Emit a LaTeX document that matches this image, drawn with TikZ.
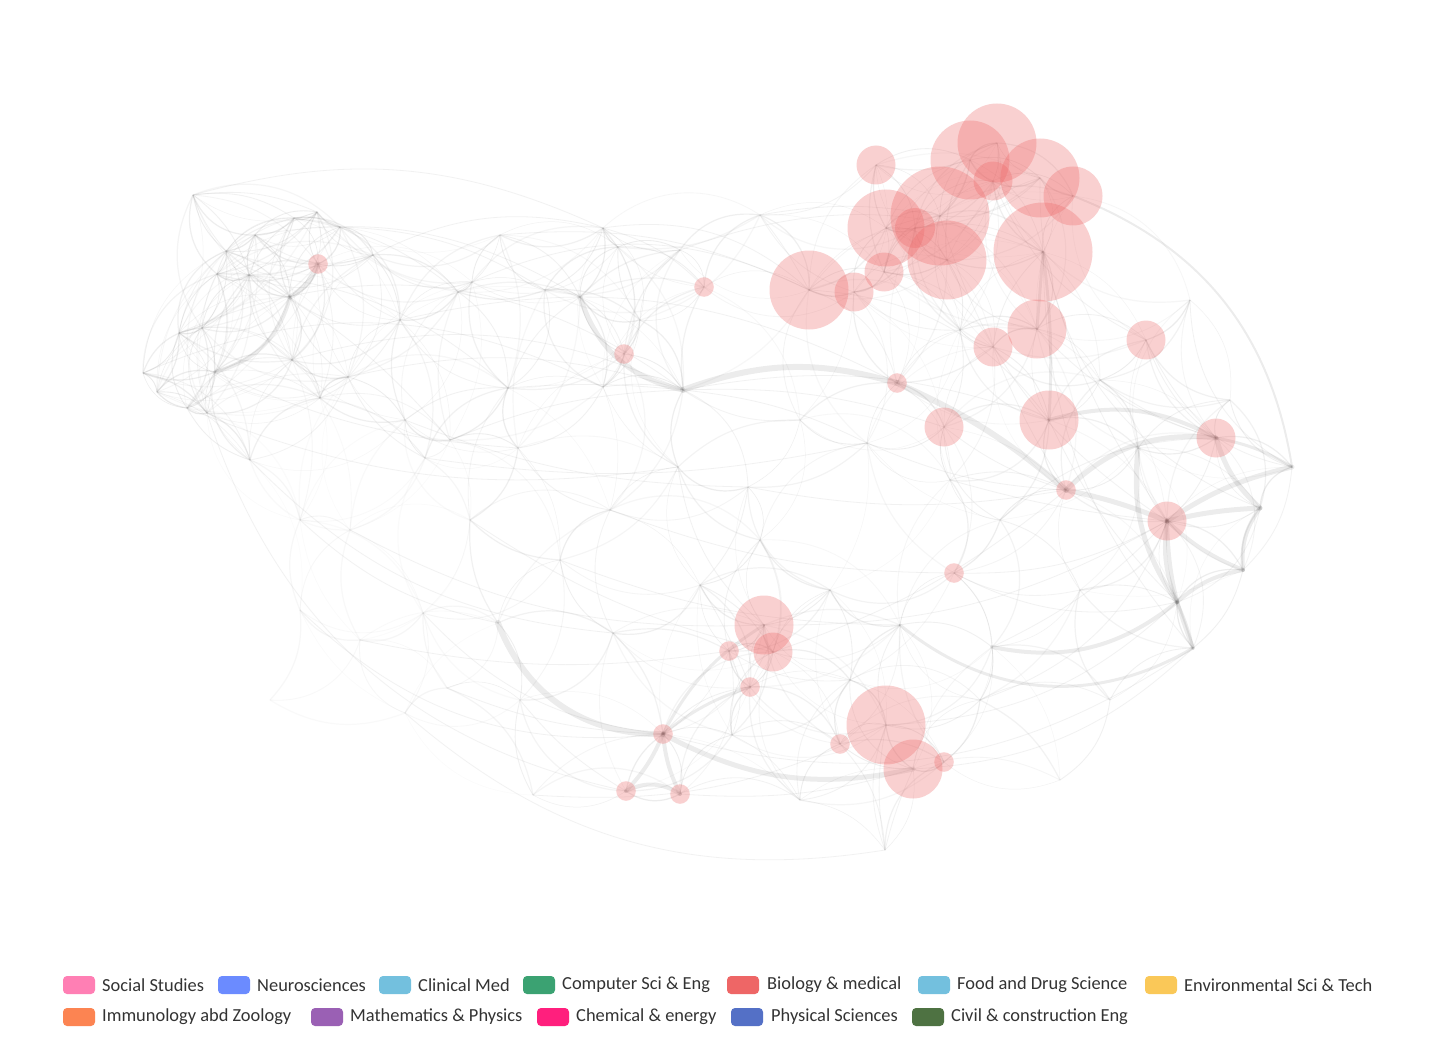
\documentclass[tikz,border=0pt]{standalone}
\usepackage{fontspec}
\setmainfont{Carlito}
\definecolor{socialC}{HTML}{FF7FB4}
\definecolor{neuroC}{HTML}{6B8BFF}
\definecolor{clinC}{HTML}{73C0DE}
\definecolor{compC}{HTML}{3BA272}
\definecolor{bioC}{HTML}{EE6666}
\definecolor{foodC}{HTML}{73C0DE}
\definecolor{envC}{HTML}{FAC858}
\definecolor{immC}{HTML}{FC8452}
\definecolor{mathC}{HTML}{9A60B4}
\definecolor{chemC}{HTML}{FF1F7D}
\definecolor{physC}{HTML}{5470C6}
\definecolor{civilC}{HTML}{4E7242}
\definecolor{txtC}{HTML}{333333}
\tikzset{
  web/.style={draw=black!40},
  longedge/.style={draw=black!40, line width=0.8pt, opacity=0.13},
  band/.style={draw=black, opacity=0.075, line cap=round},
  bionode/.style={circle, fill=bioC, fill opacity=0.3, draw=none, inner sep=0pt},
  lbox/.style={rectangle, rounded corners=4pt, minimum width=32pt, minimum height=18pt, inner sep=0pt, draw=none},
  ltext/.style={anchor=west, inner sep=0pt, text=txtC, font=\fontsize{18.4}{20}\selectfont}
}
\def\hubs{1/193/195, 2/255/235, 3/294/218, 4/317/212, 5/340/227, 6/226/251, 7/373/255, 8/217/274, 9/249/275, 10/290/297,
11/458/292, 12/472/282, 13/179/333, 14/202/328, 15/143/373, 16/215/372, 17/157/392, 18/187/408, 19/207/413, 20/292/360,
21/348/377, 22/320/398, 23/405/420, 24/450/440, 25/508/388, 26/518/448, 27/580/297, 28/603/228, 29/618/247, 30/545/290,
31/603/387, 32/425/458, 33/683/390, 34/678/467, 35/748/487, 36/867/443, 37/610/510, 38/498/623, 39/423/613, 40/447/688,
41/405/713, 42/613/633, 43/732/735, 44/533/795, 45/1292/467, 46/1260/508, 47/1243/570, 48/1177/602, 49/1193/648, 50/992/647,
51/1138/448, 52/885/850, 53/760/540, 54/830/590, 55/900/625, 56/850/680, 57/1000/520, 58/1100/380, 59/1190/300, 60/760/215,
61/680/250, 62/500/235, 63/400/320, 64/300/520, 65/250/460, 66/350/530, 67/360/640, 68/560/560, 69/950/480, 70/980/700,
71/1080/590, 72/1110/700, 73/700/585, 74/800/420, 75/960/330, 76/520/700, 77/300/610, 78/470/520, 79/800/800, 80/1060/780,
81/270/700, 82/640/320, 83/1230/400,
101/876/165, 102/997/143, 103/970/160, 104/993/181, 105/1040/178, 106/1073/196, 107/940/216, 108/886/228, 109/915/228, 110/947/260,
111/1043/252, 112/809/290, 113/854/292, 114/884/272, 115/1037/329, 116/993/347, 117/1146/340, 118/1049/420, 119/944/427, 120/897/383,
121/704/287, 122/624/354, 123/318/264, 124/1216/438, 125/1066/490, 126/1167/521, 127/954/573, 128/764/625, 129/773/652, 130/729/651,
131/750/687, 132/886/725, 133/913/769, 134/944/762, 135/840/744, 136/663/734, 137/626/791, 138/680/794}
\begin{document}
\begin{tikzpicture}[x=1pt, y=-1pt]
\useasboundingbox (0,0) rectangle (1435,1043);
\fill[white] (0,0) rectangle (1435,1043);
% hub coordinates
\foreach \i/\xa/\ya in \hubs { \coordinate (h\i) at (\xa,\ya); }
% local web of faint curved links
\foreach \i/\xa/\ya in \hubs {
  \foreach \j/\xb/\yb in \hubs {
    \ifnum\i<\j\relax
      \pgfmathsetmacro\d{veclen(\xb-\xa,\yb-\ya)}
      \ifdim\d pt<165pt
        \pgfmathsetmacro\op{(0.24-\d/1000)*((((\xa+\xb)/2<480)&&((\ya+\yb)/2>440))?0.5:1)}
        \pgfmathtruncatemacro\bnd{(mod(\i+\j,2)==0 ? 1 : -1)*(18+mod(\i*3+\j*7,22))}
        \pgfmathsetmacro\lw{0.5+0.35*mod(\i+2*\j,3)}
        \draw[web, opacity=\op, line width=\lw pt] (h\i) to[bend left=\bnd] (h\j);
      \fi
    \fi
  }
}
% long faint arcs
\foreach \a/\b/\bb in {1/28/20, 1/4/15, 1/6/-10, 28/112/25, 28/121/15, 60/107/10, 60/112/5, 62/112/15, 61/111/20, 12/112/25,
  33/118/15, 33/119/10, 33/36/10, 31/33/10, 25/33/5, 24/33/10, 21/33/15, 20/33/20, 19/137/-30, 41/52/-25,
  44/132/-15, 138/133/-10, 52/132/10, 52/133/5, 136/49/-25, 39/136/-20, 40/136/-10, 76/137/-10, 111/49/-20, 105/46/-35,
  111/126/-10, 107/126/-20, 118/48/-10, 115/124/-15, 112/118/25, 116/125/-5, 119/125/-10, 127/126/-15, 127/48/-20, 50/126/-10,
  70/126/-25, 132/48/-20, 133/49/-20, 128/126/-15, 129/125/-10, 34/128/-20, 35/125/-10, 36/125/-10, 69/126/-5, 57/124/20,
  58/124/-10, 59/45/-30, 117/45/-30, 117/124/-10, 104/117/-20, 13/33/30, 15/31/25, 8/25/20, 3/11/15, 7/28/20, 2/27/20, 5/30/15,
  9/24/10, 16/26/-10, 18/34/-15, 23/35/-10, 32/36/-10, 63/120/20, 64/38/-15, 65/42/-20, 66/128/-15, 67/130/-10, 77/136/-25,
  78/129/-10, 37/127/-10, 68/55/-10, 73/131/5}
  { \draw[longedge] (h\a) to[bend left=\bb] (h\b); }
% thick bands
\foreach \a/\b/\bb/\w in {33/120/18/6, 120/125/8/6, 125/126/5/5, 125/124/25/5, 118/124/22/4, 126/45/10/5, 126/46/5/5,
  126/47/-10/4, 126/48/-15/4, 126/49/-10/4, 124/46/-15/5, 124/45/10/3, 51/48/-20/5, 47/46/20/4, 48/47/15/4, 48/49/5/3,
  27/33/-30/5, 38/136/-35/6, 136/137/10/4, 136/138/-10/4, 137/138/30/4, 136/133/-20/5, 136/128/15/3, 136/131/10/3,
  123/10/20/5, 10/16/30/4, 50/48/-25/4, 55/49/-35/3, 111/118/5/3, 111/115/0/3, 106/45/30/2}
  { \draw[band, line width=\w pt] (h\a) to[bend left=\bb] (h\b); }
% pink nodes
\foreach \i/\r in {101/19.5, 102/39.5, 103/39.5, 104/19.5, 105/39.5, 106/29.5, 107/49.5, 108/38.5, 109/20, 110/39.5,
  111/49.5, 112/39.5, 113/19.5, 114/19.5, 115/29.5, 116/19.5, 117/19.5, 118/29.5, 119/19.5, 120/9.8,
  121/9.8, 122/9.8, 123/9.8, 124/19.5, 125/9.8, 126/19.5, 127/9.8, 128/29.5, 129/19.5, 130/9.8,
  131/9.8, 132/39.5, 133/29.5, 134/9.8, 135/9.8, 136/9.8, 137/9.8, 138/9.8}
  { \node[bionode, minimum size=2*\r] (p\i) at (h\i) {}; }
% legend
\node[lbox, fill=socialC] (k1) at (79,985) {};  \node[ltext] (t1) at (102,985) {Social Studies};
\node[lbox, fill=neuroC]  (k2) at (234,985) {}; \node[ltext] (t2) at (257,985) {Neurosciences};
\node[lbox, fill=clinC]   (k3) at (395,985) {}; \node[ltext] (t3) at (418,985) {Clinical Med};
\node[lbox, fill=compC]   (k4) at (539,985) {}; \node[ltext] (t4) at (562,985) {Computer Sci \& Eng};
\node[lbox, fill=bioC]    (k5) at (743,985) {}; \node[ltext] (t5) at (767,985) {Biology \& medical};
\node[lbox, fill=foodC]   (k6) at (934,985) {}; \node[ltext] (t6) at (957,985) {Food and Drug Science};
\node[lbox, fill=envC]    (k7) at (1161,985) {}; \node[ltext] (t7) at (1184,985) {Environmental Sci \& Tech};
\node[lbox, fill=immC]    (k8) at (79,1017) {};  \node[ltext] (t8) at (102,1017) {Immunology abd Zoology};
\node[lbox, fill=mathC]   (k9) at (327,1017) {}; \node[ltext] (t9) at (350,1017) {Mathematics \& Physics};
\node[lbox, fill=chemC]   (k10) at (553,1017) {}; \node[ltext] (t10) at (576,1017) {Chemical \& energy};
\node[lbox, fill=physC]   (k11) at (747,1017) {}; \node[ltext] (t11) at (771,1017) {Physical Sciences};
\node[lbox, fill=civilC]  (k12) at (928,1017) {}; \node[ltext] (t12) at (951,1017) {Civil \& construction Eng};
\end{tikzpicture}
\end{document}
